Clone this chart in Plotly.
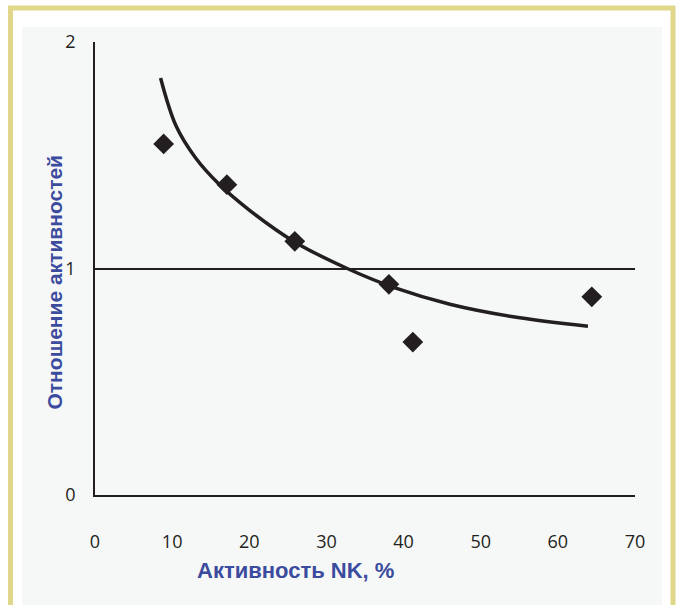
import plotly.graph_objects as go

# Data points
nk_activity = [8.9, 17.1, 25.9, 38.1, 41.2, 64.4]
activity_ratio = [1.55, 1.37, 1.12, 0.93, 0.675, 0.875]

# Trend curve
curve_x = [8.5, 10.5, 13.0, 16.0, 20.0, 26.0, 32.7, 39.0, 46.0, 54.0, 63.9]
curve_y = [1.841, 1.63, 1.49, 1.375, 1.258, 1.115, 1.0, 0.913, 0.842, 0.788, 0.745]

x_ticks = [0, 10, 20, 30, 40, 50, 60, 70]
y_ticks = [0, 1, 2]

INK = "#231f20"
PANEL = "#f6f8f7"
TITLE_BLUE = "#3b4b9e"

fig = go.Figure()
fig.add_trace(go.Scatter(x=curve_x, y=curve_y, mode="lines",
                         line=dict(color=INK, width=3.5, shape="spline", smoothing=1.0),
                         hoverinfo="skip", showlegend=False))
fig.add_trace(go.Scatter(x=nk_activity, y=activity_ratio, mode="markers",
                         marker=dict(symbol="diamond", size=16, color=INK),
                         showlegend=False))

L, R, T, B = 95, 43, 42, 110
W, H = 678, 605
pw, ph = W - L - R, H - T - B

def px(x):
    return (x - L) / pw

def py(y):
    return (H - B - y) / ph

fig.update_layout(
    width=W, height=H,
    margin=dict(l=L, r=R, t=T, b=B),
    paper_bgcolor="white",
    plot_bgcolor=PANEL,
    shapes=[
        dict(type="rect", xref="paper", yref="paper", layer="below",
             x0=px(22), x1=px(662), y0=py(640), y1=py(27),
             fillcolor=PANEL, line=dict(width=0)),
        dict(type="rect", xref="paper", yref="paper", layer="above",
             x0=px(10.5), x1=px(673), y0=py(660), y1=py(8),
             fillcolor="rgba(0,0,0,0)", line=dict(color="#e0d78a", width=5)),
    ],
    annotations=[
        dict(text="Активность NK, %", xref="paper", yref="paper",
             x=px(295), y=py(585), showarrow=False,
             font=dict(family="Liberation Sans", size=22, color=TITLE_BLUE, weight="bold")),
        dict(text="Отношение активностей", xref="paper", yref="paper",
             x=px(40), y=py(282), showarrow=False, textangle=-90,
             font=dict(family="Liberation Sans", size=21, color=TITLE_BLUE, weight="bold")),
    ],
    xaxis=dict(range=[0, 70], tickvals=x_ticks, ticktext=[str(v) for v in x_ticks],
               showgrid=False, zeroline=False, showline=True, linecolor=INK, linewidth=1.5,
               ticks="outside", ticklen=30, tickcolor="rgba(0,0,0,0)",
               tickfont=dict(family="Open Sans", size=18, color=INK)),
    yaxis=dict(range=[0, 2], tickvals=y_ticks, ticktext=[str(v) for v in y_ticks],
               showgrid=True, gridcolor=INK, gridwidth=1.5, zeroline=False,
               showline=True, linecolor=INK, linewidth=1.5,
               ticks="outside", ticklen=14, tickcolor="rgba(0,0,0,0)",
               tickfont=dict(family="Open Sans", size=18, color=INK)),
)

fig.write_html("out.html", config={"displayModeBar": False},
               post_script="document.body.style.margin='0';")
